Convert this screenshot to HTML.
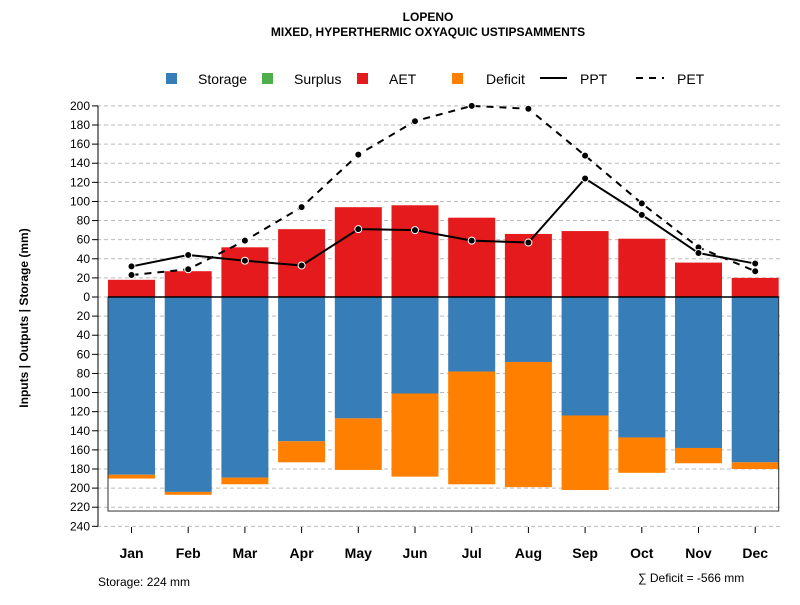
<!DOCTYPE html>
<html><head><meta charset="utf-8"><style>
body{margin:0;background:#fff;}
svg text{font-family:"Liberation Sans",sans-serif;}
</style></head><body>
<svg id="chart" width="800" height="600" viewBox="0 0 800 600" xmlns="http://www.w3.org/2000/svg">
<text x="428" y="21" text-anchor="middle" font-size="12" font-weight="bold">LOPENO</text>
<text x="428" y="36" text-anchor="middle" font-size="12" font-weight="bold">MIXED, HYPERTHERMIC OXYAQUIC USTIPSAMMENTS</text>
<g id="legend">
<rect x="166" y="73" width="11" height="11" fill="#377EB8"/>
<text x="198" y="84" font-size="14">Storage</text>
<rect x="262" y="73" width="11" height="11" fill="#4DAF4A"/>
<text x="294" y="84" font-size="14">Surplus</text>
<rect x="357" y="73" width="11" height="11" fill="#E41A1C"/>
<text x="389" y="84" font-size="14">AET</text>
<rect x="452" y="73" width="11" height="11" fill="#FF7F00"/>
<text x="486" y="84" font-size="14">Deficit</text>
<line x1="540" y1="78" x2="567" y2="78" stroke="#000" stroke-width="2"/>
<text x="580" y="84" font-size="14">PPT</text>
<line x1="636" y1="78" x2="664" y2="78" stroke="#000" stroke-width="2" stroke-dasharray="7,6"/>
<text x="677" y="84" font-size="14">PET</text>
</g>
<text transform="translate(28,318) rotate(-90)" text-anchor="middle" font-size="12" font-weight="bold">Inputs | Outputs | Storage    (mm)</text>
<g id="grid"></g><g id="bars"></g><g id="lines"></g><g id="axes"></g>
<text x="98" y="586" font-size="12">Storage: 224 mm</text>
<text x="638" y="582" font-size="12">∑ Deficit = -566 mm</text>
</svg>
<script>
const months=["Jan","Feb","Mar","Apr","May","Jun","Jul","Aug","Sep","Oct","Nov","Dec"];
const aet=[18,27,52,71,94,96,83,66,69,61,36,20];
const ppt=[32,44,38,33,71,70,59,57,124,86,46,35];
const pet=[23,29,59,94,149,184,200,197,148,98,52,27];
const storage=[186,204,189,151,127,101,78,68,124,147,158,173];
const deficit=[4,3,7,22,54,87,118,131,78,37,16,7];
const yTicks=[240,220,200,180,160,140,120,100,80,60,40,20,0,20,40,60,80,100,120,140,160,180,200];
const storageCap=224;
const NS="http://www.w3.org/2000/svg";
function y(v){return 297-v*0.9555;}
function x(i){return 131.5+i*56.7;}
const bw=47;
function mk(tag,attrs,parent){const e=document.createElementNS(NS,tag);for(const k in attrs)e.setAttribute(k,attrs[k]);document.getElementById(parent).appendChild(e);return e;}
// grid & y axis
yTicks.forEach((t,k)=>{const v=k<12?-t:t;
 const g=mk('line',{x1:97,x2:780,y1:y(v),y2:y(v),stroke:'#bbb','stroke-dasharray':'4,3'},'grid');
 
 
 const tk=mk('line',{x1:92,x2:98,y1:y(v),y2:y(v),stroke:'#000'},'axes');
 
 
 const tx=mk('text',{x:90,y:y(v)+4,'text-anchor':'end','font-size':'12'},'axes');tx.textContent=t;
 
 
});
const ya=mk('line',{x1:98,x2:98,y1:y(200),y2:y(-240),stroke:'#000'},'axes');


months.forEach((m,i)=>{
 const r1=mk('rect',{x:x(i)-bw/2,y:y(aet[i]),width:bw,height:y(0)-y(aet[i]),fill:'#E41A1C'},'bars');
 
 
 const r2=mk('rect',{x:x(i)-bw/2,y:y(0),width:bw,height:y(-storage[i])-y(0),fill:'#377EB8'},'bars');
 
 
 const r3=mk('rect',{x:x(i)-bw/2,y:y(-storage[i]),width:bw,height:y(-storage[i]-deficit[i])-y(-storage[i]),fill:'#FF7F00'},'bars');
 
 
 const tk=mk('line',{x1:x(i),x2:x(i),y1:527,y2:533,stroke:'#000'},'axes');
 
 
 const tx=mk('text',{x:x(i),y:558,'text-anchor':'middle','font-size':'14','font-weight':'bold'},'axes');tx.textContent=m;
 
 
});
const box=mk('rect',{x:x(0)-bw/2,y:y(0),width:x(11)-x(0)+bw,height:y(-storageCap)-y(0),fill:'none',stroke:'#333'},'bars');


const zl=mk('line',{x1:x(0)-bw/2,x2:x(11)+bw/2,y1:y(0),y2:y(0),stroke:'#000','stroke-width':1.5},'bars');


function series(vals,name,dash){
 const p=mk('polyline',{points:vals.map((v,i)=>x(i)+','+y(v)).join(' '),fill:'none',stroke:'#000','stroke-width':2,'stroke-dasharray':dash},'lines');
 
 
 vals.forEach((v,i)=>{const c=mk('circle',{cx:x(i),cy:y(v),r:3.5,fill:'#000',stroke:'#fff','stroke-width':1},'lines');
  
  });
}
series(pet,'pet','7,6');
series(ppt,'ppt','none');
</script>
</body></html>
